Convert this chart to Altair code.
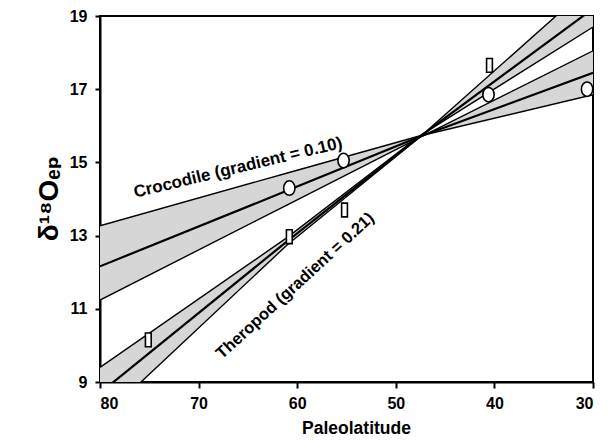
import altair as alt
import pandas as pd

# ---- data ----
x_ticks = [80, 70, 60, 50, 40, 30]
y_ticks = [9, 11, 13, 15, 17, 19]

# knots (paleolatitude) at which the band edges are read
lat_knots = [80, 61, 47.6, 30]
thero_upper = [9.4, 12.95, 15.72, 18.7]
thero_mid = [8.7, 12.85, 15.70, 19.2]
thero_lower = [7.95, 12.75, 15.68, 19.9]
croc_upper = [13.27, 14.71, 15.72, 16.85]
croc_mid = [12.16, 14.23, 15.70, 17.45]
croc_lower = [11.24, 13.84, 15.68, 18.05]

croc_lat = [60.8, 55.3, 40.6, 30.6]
croc_d18o = [14.3, 15.05, 16.85, 17.0]
thero_lat = [75.1, 60.8, 55.2, 40.5]
thero_d18o = [10.15, 12.97, 13.7, 17.65]

croc_label = "Crocodile (gradient = 0.10)"
thero_label = "Theropod (gradient = 0.21)"
croc_label_pos = (66.0, 14.85)
thero_label_pos = (60.2, 11.63)

# ---- tables ----
bands = pd.DataFrame(
    [{"lat": l, "hi": u, "lo": d, "sp": "Theropod"} for l, u, d in zip(lat_knots, thero_upper, thero_lower)]
    + [{"lat": l, "hi": u, "lo": d, "sp": "Crocodile"} for l, u, d in zip(lat_knots, croc_upper, croc_lower)]
)
edge_rows = []
for name, vals in [("tu", thero_upper), ("tl", thero_lower), ("cu", croc_upper), ("cl", croc_lower)]:
    edge_rows += [{"lat": l, "v": v, "line": name} for l, v in zip(lat_knots, vals)]
edges = pd.DataFrame(edge_rows)
mid_rows = []
for name, vals in [("tm", thero_mid), ("cm", croc_mid)]:
    mid_rows += [{"lat": l, "v": v, "line": name} for l, v in zip(lat_knots, vals)]
mids = pd.DataFrame(mid_rows)
croc_pts = pd.DataFrame({"lat": croc_lat, "v": croc_d18o})
thero_pts = pd.DataFrame({"lat": thero_lat, "v": thero_d18o})
labels_c = pd.DataFrame({"lat": [croc_label_pos[0]], "v": [croc_label_pos[1]], "t": [croc_label]})
labels_t = pd.DataFrame({"lat": [thero_label_pos[0]], "v": [thero_label_pos[1]], "t": [thero_label]})

FONT = "Liberation Sans, Arial, Helvetica, DejaVu Sans, sans-serif"

xs = alt.Scale(domain=[80, 30], nice=False, zero=False)
ys = alt.Scale(domain=[9, 19], nice=False, zero=False)
x_axis = alt.Axis(values=x_ticks, title="Paleolatitude", format="d",
                  titleX=256, titleY=46, titleBaseline="middle", titleAlign="center",
                  titleFontSize=17.5, labelFontSize=16, labelPadding=7, tickSize=6)
y_axis = alt.Axis(values=y_ticks, title="δ¹⁸Oₑₚ", format="d",
                  titleX=-51, titleY=182, titleAngle=270, titleBaseline="middle",
                  titleAlign="center", titleFontSize=28, labelFontSize=16,
                  labelPadding=8, tickSize=5)


def X(f="lat"):
    return alt.X(f"{f}:Q", scale=xs, axis=x_axis)


def Y(f="v"):
    return alt.Y(f"{f}:Q", scale=ys, axis=y_axis)


area = alt.Chart(bands).mark_area(color="#d6d6d6", opacity=1, clip=True).encode(
    x=X(), y=Y("hi"), y2="lo:Q", detail="sp:N"
)
edge_lines = alt.Chart(edges).mark_line(color="black", strokeWidth=1.4, clip=True).encode(
    x=X(), y=Y(), detail="line:N"
)
mid_lines = alt.Chart(mids).mark_line(color="black", strokeWidth=2.2, clip=True).encode(
    x=X(), y=Y(), detail="line:N"
)
ellipse = "M0,-1 A0.78,1 0 1,1 0,1 A0.78,1 0 1,1 0,-1 Z"
rect = "M-0.42,-1 L0.42,-1 L0.42,1 L-0.42,1 Z"
circ = alt.Chart(croc_pts).mark_point(shape=ellipse, size=210, filled=True, fill="white",
                                      stroke="black", strokeWidth=1.6, opacity=1).encode(x=X(), y=Y())
sq = alt.Chart(thero_pts).mark_point(shape=rect, size=190, filled=True, fill="white",
                                     stroke="black", strokeWidth=1.6, opacity=1).encode(x=X(), y=Y())
txt_c = alt.Chart(labels_c).mark_text(angle=346.5, font=FONT, fontWeight="bold", fontSize=17,
                                      align="center", baseline="middle", color="black").encode(
    x=X(), y=Y(), text="t:N")
txt_t = alt.Chart(labels_t).mark_text(angle=317.5, font=FONT, fontWeight="bold", fontSize=16.5,
                                      align="center", baseline="middle", color="black").encode(
    x=X(), y=Y(), text="t:N")

chart = alt.layer(area, edge_lines, mid_lines, circ, sq, txt_c, txt_t).properties(
    width=493, height=366,
    autosize=alt.AutoSizeParams(type="none"),
    padding={"left": 92, "top": 8, "right": 12, "bottom": 60},
    background="white",
).configure_view(stroke="black", strokeWidth=2).configure_axis(
    grid=False, domainColor="black", domainWidth=2, tickColor="black", tickWidth=2,
    labelColor="black", titleColor="black", labelFont=FONT, titleFont=FONT,
    labelFontWeight="bold", titleFontWeight="bold",
)

chart.save("out.html", embed_options={"renderer": "svg", "actions": False})
